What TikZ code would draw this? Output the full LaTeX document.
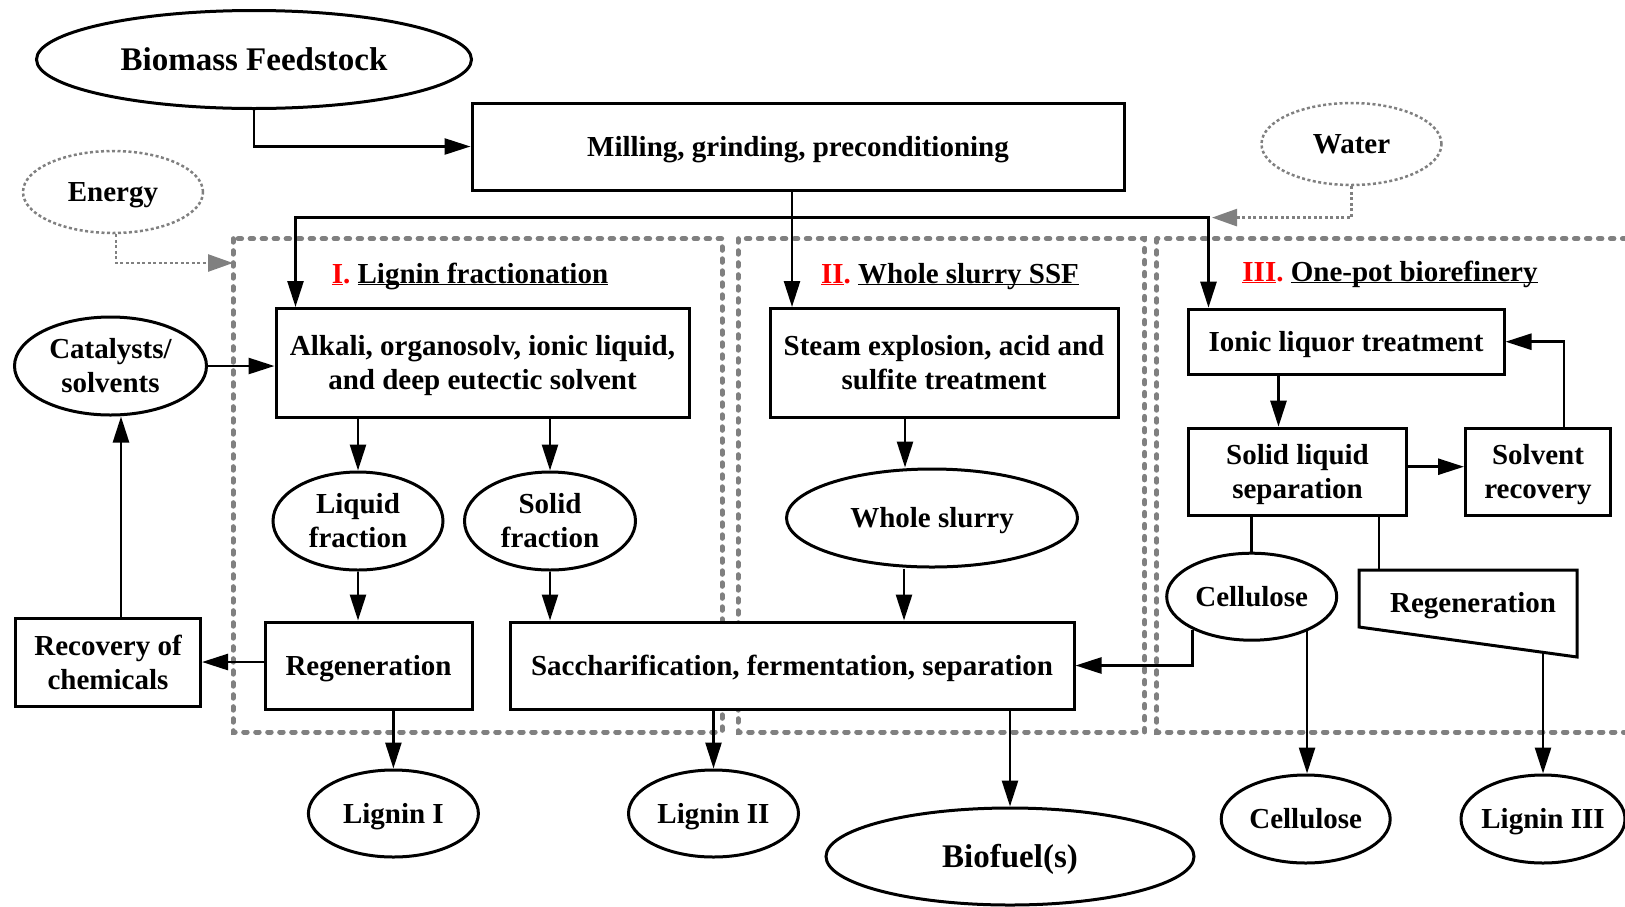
\documentclass[tikz,border=0pt]{standalone}
\usepackage{fontspec}
\setmainfont{Liberation Serif}
\usetikzlibrary{shapes.geometric,arrows.meta}
\newcommand\ul[1]{\underline{\smash{#1}}}
\newcommand\vstrut{\rule[-.22em]{0pt}{1.12em}}

\begin{document}
\begin{tikzpicture}[x=1pt,y=-1pt,
        every node/.style={font=\bfseries\fontsize{29}{34}\selectfont,align=center,inner sep=0pt},
        box/.style 2 args={draw,fill=white,line width=3pt,minimum width=#1pt,minimum height=#2pt},
        oval/.style 2 args={draw,fill=white,ellipse,line width=3pt,minimum width=#1pt,minimum height=#2pt},
        oneline/.style={execute at begin node=\vstrut},
        supply/.style={draw=gray,ellipse,line width=2.5pt,dash pattern=on 3pt off 2.5pt,minimum width=180pt,minimum height=82pt},
        zone/.style={draw=gray,line width=5pt,line cap=round,dash pattern=on 3.5pt off 8.5pt},
        arr/.style={line width=2.6pt,-{Triangle[length=26pt,width=16pt]}},
        garr/.style={draw=gray,line width=2.6pt,dash pattern=on 3pt off 2.5pt,-{Triangle[length=25pt,width=17pt]}},
        link/.style={line width=2.6pt}]
        \useasboundingbox (0,0) rectangle (1625,906);
        \draw[zone] (233,238.7) rectangle (722,732);
        \draw[zone] (738,238.7) rectangle (1144.6,732);
        \draw[zone] (1156.7,238.7) rectangle (1660,732);
        \node[oval={435}{98},oneline,font=\bfseries\fontsize{33}{38}\selectfont] (feed) at (254,59.5) {Biomass Feedstock};
        \node[box={652}{87},oneline] (mill) at (798,146.5) {Milling, grinding, preconditioning};
        \node[supply,oneline] (energy) at (113,192) {Energy};
        \node[supply,oneline] (water) at (1351.5,144) {Water};
        \node[anchor=base] (titleI) at (470,283) {\textcolor{red}{\ul{I}.}~\ul{Lignin fractionation}};
        \node[anchor=base] (titleII) at (950,283) {\textcolor{red}{\ul{II}.}~\ul{Whole slurry SSF}};
        \node[anchor=base] (titleIII) at (1390,281) {\textcolor{red}{\ul{III}.}~\ul{One-pot biorefinery}};
        \node[oval={192}{98}] (cat) at (110.5,366) {Catalysts/\\solvents};
        \node[box={413}{109}] (alk) at (482.5,363) {\vstrut Alkali, organosolv, ionic liquid,\\and deep eutectic solvent};
        \node[box={348}{109}] (steam) at (944,363) {Steam explosion, acid and\\sulfite treatment};
        \node[box={316}{65},oneline] (ionic) at (1346,341.7) {Ionic liquor treatment};
        \node[box={218}{87}] (sls) at (1297.5,471.7) {\vstrut Solid liquid\\separation};
        \node[box={145}{87}] (solv) at (1538,471.7) {\vstrut Solvent\\recovery};
        \node[oval={170}{98}] (liq) at (358,521) {Liquid\\fraction};
        \node[oval={171}{98}] (sol) at (550,521) {Solid\\fraction};
        \node[oval={291}{98},oneline] (slurry) at (932,518) {Whole slurry};
        \node[oval={170}{87},oneline] (cell) at (1251.7,596.7) {Cellulose};
        \draw[line width=3pt,fill=white] (1359,570) -- (1577,570) -- (1577,657) -- (1359,627) -- cycle;
        \node[oneline] (regIII) at (1473,603) {Regeneration};
        \node[box={185}{88}] (recov) at (108,662) {Recovery of\\chemicals};
        \node[box={207}{87},oneline] (regI) at (368.5,665.5) {Regeneration};
        \node[box={564}{87},oneline] (sacc) at (792,665.5) {Saccharification, fermentation, separation};
        \node[oval={170}{87},oneline] (ligI) at (393.4,813.5) {Lignin I};
        \node[oval={170}{87},oneline] (ligII) at (713.5,813.5) {Lignin II};
        \node[oval={368}{97},oneline,font=\bfseries\fontsize{33}{38}\selectfont] (fuel) at (1010,856.5) {Biofuel(s)};
        \node[oval={169}{88},oneline] (cellout) at (1305.7,819) {Cellulose};
        \node[oval={164}{88},oneline,inner xsep=-4pt] (ligIII) at (1543,819) {Lignin III};
        \coordinate (split) at (792,217.6);
        \coordinate (einlet) at (233,263);
        \coordinate (winlet) at (1212,217.6);
        \coordinate (rgin) at (1379,570);
        \coordinate (rgout) at (1543,652.5);
        \draw[arr] (feed.south) |- (mill.west);
        \draw[garr] ([xshift=3pt]energy.south) |- (einlet);
        \draw[garr] (water.south) |- (winlet);
        \draw[arr] ([xshift=-6pt]mill.south) -- ([xshift=-6pt]mill.south |- steam.north);
        \draw[arr] (split) -| ([xshift=21pt]alk.north west);
        \draw[arr] (split) -| ([xshift=22pt]ionic.north west);
        \draw[arr] (cat.east) -- (cat.east -| alk.west);
        \draw[arr] (liq.north |- alk.south) -- (liq.north);
        \draw[arr] (sol.north |- alk.south) -- (sol.north);
        \draw[arr] (liq.south) -- (liq.south |- regI.north);
        \draw[arr] (sol.south) -- (sol.south |- sacc.north);
        \draw[arr] (regI.west |- recov.east) -- (recov.east);
        \draw[arr] ([xshift=13pt]recov.north) -- ([xshift=13pt]recov.north |- cat.south);
        \draw[arr] (ligI.north |- regI.south) -- (ligI.north);
        \draw[arr] (ligII.north |- sacc.south) -- (ligII.north);
        \draw[arr] ([xshift=-27pt]slurry.north |- steam.south) -- ([xshift=-27pt]slurry.north);
        \draw[arr] ([xshift=-28pt]slurry.south) -- ([xshift=-28pt]slurry.south |- sacc.north);
        \draw[arr] (fuel.north |- sacc.south) -- (fuel.north);
        \draw[arr] ([xshift=-19pt]sls.north |- ionic.south) -- ([xshift=-19pt]sls.north);
        \draw[arr] ([yshift=5pt]sls.east) -- ([yshift=5pt]sls.east -| solv.west);
        \draw[arr] ([xshift=26pt]solv.north) |- (ionic.east);
        \draw[link] (cell.north |- sls.south) -- (cell.north);
        \draw[link] (sls.south -| rgin) -- (rgin);
        \draw[arr] (cell.-32) -- (cell.-32 |- cellout.north);
        \draw[arr] (cell.209.5) |- (sacc.east);
        \draw[arr] (rgout) -- (rgout |- ligIII.north);
    \end{tikzpicture}
\end{document}
